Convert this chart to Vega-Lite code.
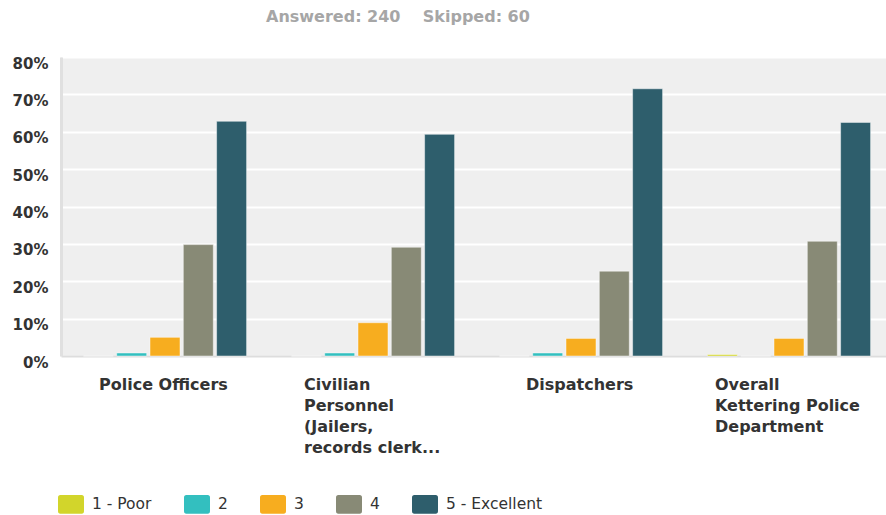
{
  "$schema": "https://vega.github.io/schema/vega-lite/v6.json",
  "autosize": {"type": "none"},
  "padding": {"left": 61, "top": 57, "right": 0, "bottom": 159},
  "width": 825,
  "height": 299,
  "background": "white",
  "title": {
    "text": "Answered: 240\u00a0\u00a0\u00a0\u00a0Skipped: 60",
    "anchor": "start",
    "frame": "group",
    "dx": 205,
    "offset": 18,
    "baseline": "alphabetic",
    "font": "DejaVu Sans",
    "fontSize": 16,
    "fontWeight": "bold",
    "color": "#a6a6a6"
  },
  "data": {
    "values": [
      {"group": "Police Officers", "rating": "1 - Poor", "pct": 0},
      {"group": "Police Officers", "rating": "2", "pct": 0.8},
      {"group": "Police Officers", "rating": "3", "pct": 5.0},
      {"group": "Police Officers", "rating": "4", "pct": 29.8},
      {"group": "Police Officers", "rating": "5 - Excellent", "pct": 62.8},
      {"group": "Civilian Personnel (Jailers, records clerk...)", "rating": "1 - Poor", "pct": 0},
      {"group": "Civilian Personnel (Jailers, records clerk...)", "rating": "2", "pct": 0.8},
      {"group": "Civilian Personnel (Jailers, records clerk...)", "rating": "3", "pct": 8.9},
      {"group": "Civilian Personnel (Jailers, records clerk...)", "rating": "4", "pct": 29.1},
      {"group": "Civilian Personnel (Jailers, records clerk...)", "rating": "5 - Excellent", "pct": 59.3},
      {"group": "Dispatchers", "rating": "1 - Poor", "pct": 0},
      {"group": "Dispatchers", "rating": "2", "pct": 0.8},
      {"group": "Dispatchers", "rating": "3", "pct": 4.7},
      {"group": "Dispatchers", "rating": "4", "pct": 22.7},
      {"group": "Dispatchers", "rating": "5 - Excellent", "pct": 71.5},
      {"group": "Overall Kettering Police Department", "rating": "1 - Poor", "pct": 0.4},
      {"group": "Overall Kettering Police Department", "rating": "2", "pct": 0},
      {"group": "Overall Kettering Police Department", "rating": "3", "pct": 4.7},
      {"group": "Overall Kettering Police Department", "rating": "4", "pct": 30.7},
      {"group": "Overall Kettering Police Department", "rating": "5 - Excellent", "pct": 62.5}
    ]
  },
  "mark": {"type": "bar", "stroke": "white", "strokeOpacity": 0.45, "strokeWidth": 1},
  "encoding": {
    "x": {
      "field": "group",
      "type": "nominal",
      "sort": null,
      "scale": {"range": [0, 832], "paddingInner": 0, "paddingOuter": 0},
      "axis": {
        "title": null,
        "domain": true,
        "domainColor": "#dddddd",
        "domainWidth": 2,
        "ticks": false,
        "grid": false,
        "labelAngle": 0,
        "labelAlign": "left",
        "labelBaseline": "top",
        "labelPadding": 20,
        "labelLineHeight": 21,
        "labelFont": "DejaVu Sans",
        "labelFontSize": 16,
        "labelFontWeight": 600,
        "labelColor": "#333333",
        "labelLimit": 300,
        "labelOffset": {
          "condition": [
            {"test": "datum.value === 'Police Officers'", "value": -66},
            {"test": "datum.value === 'Dispatchers'", "value": -55},
            {"test": "datum.value === 'Overall Kettering Police Department'", "value": -74}
          ],
          "value": -69
        },
        "labelExpr": "datum.value === 'Civilian Personnel (Jailers, records clerk...)' ? ['Civilian', 'Personnel', '(Jailers,', 'records clerk...'] : datum.value === 'Overall Kettering Police Department' ? ['Overall', 'Kettering Police', 'Department'] : datum.value"
      }
    },
    "xOffset": {
      "field": "rating",
      "type": "nominal",
      "sort": ["1 - Poor", "2", "3", "4", "5 - Excellent"],
      "scale": {"paddingInner": 0.1, "paddingOuter": 0.673}
    },
    "y": {
      "field": "pct",
      "type": "quantitative",
      "scale": {"domain": [0, 80], "nice": false},
      "axis": {
        "title": null,
        "values": [0, 10, 20, 30, 40, 50, 60, 70, 80],
        "labelExpr": "datum.value + '%'",
        "domain": true,
        "domainColor": "#e0e0e0",
        "domainWidth": 3,
        "ticks": false,
        "grid": true,
        "gridColor": "#ffffff",
        "gridWidth": 2,
        "labelPadding": 13,
        "labelOffset": 6,
        "labelFont": "DejaVu Sans",
        "labelFontSize": 15,
        "labelFontWeight": "bold",
        "labelColor": "#333333"
      }
    },
    "color": {
      "field": "rating",
      "type": "nominal",
      "sort": ["1 - Poor", "2", "3", "4", "5 - Excellent"],
      "scale": {
        "domain": ["1 - Poor", "2", "3", "4", "5 - Excellent"],
        "range": ["#d2d52b", "#33bfbf", "#f7ad1f", "#888a76", "#2e5e6c"]
      },
      "legend": {
        "title": null,
        "orient": "none",
        "direction": "horizontal",
        "legendX": -3,
        "legendY": 434,
        "symbolType": "M -0.82 -0.72 L 0.82 -0.72 Q 1 -0.72 1 -0.52 L 1 0.52 Q 1 0.72 0.82 0.72 L -0.82 0.72 Q -1 0.72 -1 0.52 L -1 -0.52 Q -1 -0.72 -0.82 -0.72 Z",
        "symbolSize": 676,
        "symbolStrokeWidth": 0,
        "symbolOpacity": 1,
        "labelOffset": 8,
        "columnPadding": 32,
        "labelFont": "DejaVu Sans",
        "labelFontSize": 15.5,
        "labelColor": "#333333",
        "labelLimit": 200
      }
    }
  },
  "config": {
    "view": {"fill": "#efefef", "stroke": null}
  }
}
